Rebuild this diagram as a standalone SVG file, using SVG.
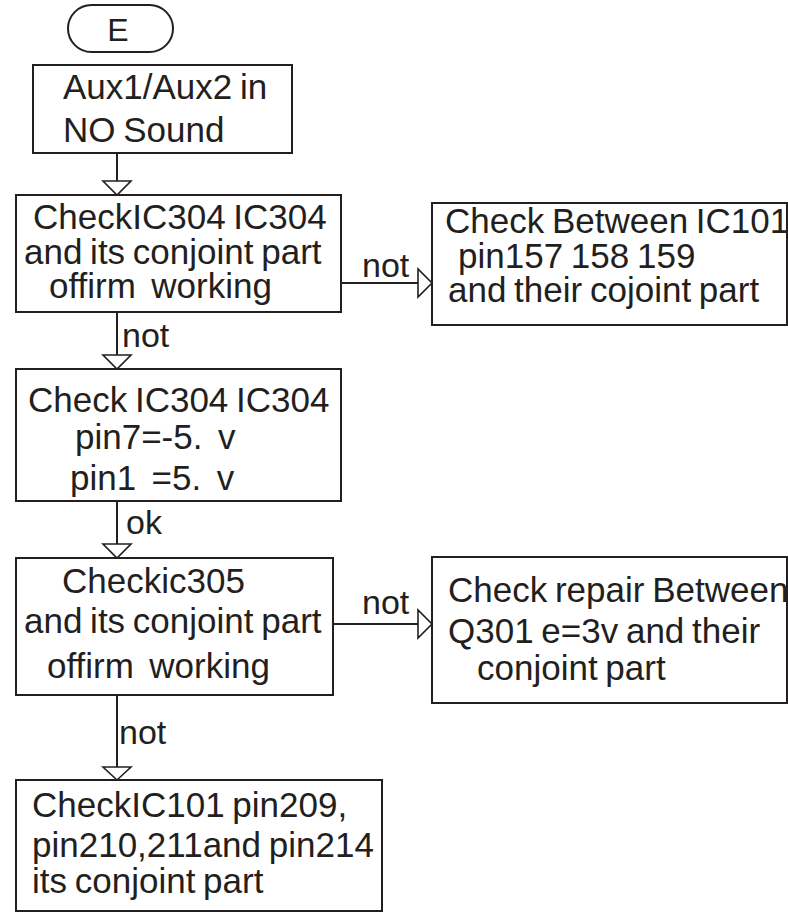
<svg xmlns="http://www.w3.org/2000/svg" width="788" height="913" viewBox="0 0 788 913">
<style>
.b{fill:#fff;stroke:#231f20;stroke-width:2}
.t{font-family:"Liberation Sans",Arial,sans-serif;font-size:35px;fill:#231f20;white-space:pre;word-spacing:-2px}
.l{font-family:"Liberation Sans",Arial,sans-serif;font-size:34px;fill:#231f20}
.c{fill:none;stroke:#231f20;stroke-width:2}
.a{fill:#fff;stroke:#231f20;stroke-width:1.6}
</style>
<g id="connectors">
<line class="c" x1="117" y1="153" x2="117" y2="181"/>
<polygon class="a" points="103,181 131,181 117,195"/>
<line class="c" x1="117" y1="312" x2="117" y2="355"/>
<polygon class="a" points="103,355 131,355 117,369"/>
<text class="l" x="122" y="347">not</text>
<line class="c" x1="117" y1="501" x2="117" y2="544"/>
<polygon class="a" points="103,544 131,544 117,558"/>
<text class="l" x="126" y="534">ok</text>
<line class="c" x1="117" y1="695" x2="117" y2="767"/>
<polygon class="a" points="103,767 131,767 117,780"/>
<text class="l" x="119" y="744">not</text>
<line class="c" x1="341" y1="283" x2="418" y2="283"/>
<polygon class="a" points="418,269 418,297 432,283"/>
<text class="l" x="362" y="277">not</text>
<line class="c" x1="333" y1="624" x2="418" y2="624"/>
<polygon class="a" points="418,610 418,638 432,624"/>
<text class="l" x="362" y="614">not</text>
</g>
<g id="start">
<rect class="b" x="68" y="5" width="105" height="47" rx="23.5"/>
<text class="t" x="118" y="41" text-anchor="middle" style="font-size:32px">E</text>
</g>
<g id="n1">
<rect class="b" x="33" y="65" width="259" height="88"/>
<text class="t" x="63" y="99">Aux1/Aux2 in</text>
<text class="t" x="63" y="142">NO Sound</text>
</g>
<g id="n2">
<rect class="b" x="16" y="195" width="325" height="117"/>
<text class="t" x="33" y="229">CheckIC304 IC304</text>
<text class="t" x="24" y="264">and its conjoint part</text>
<text class="t" x="49" y="298">offirm  working</text>
</g>
<g id="n3">
<rect class="b" x="432" y="203" width="355" height="122"/>
<text class="t" x="445" y="233">Check Between IC101</text>
<text class="t" x="458" y="268">pin157 158 159</text>
<text class="t" x="448" y="302">and their cojoint part</text>
</g>
<g id="n4">
<rect class="b" x="16" y="369" width="325" height="132"/>
<text class="t" x="28" y="412">Check IC304 IC304</text>
<text class="t" x="75" y="449">pin7=-5.  v</text>
<text class="t" x="70" y="490">pin1  =5.  v</text>
</g>
<g id="n5">
<rect class="b" x="16" y="558" width="317" height="137"/>
<text class="t" x="62" y="593">Checkic305</text>
<text class="t" x="24" y="633">and its conjoint part</text>
<text class="t" x="47" y="678">offirm  working</text>
</g>
<g id="n6">
<rect class="b" x="432" y="557" width="355" height="146"/>
<text class="t" x="448" y="602">Check repair Between</text>
<text class="t" x="448" y="643">Q301 e=3v and their</text>
<text class="t" x="477" y="680">conjoint part</text>
</g>
<g id="n7">
<rect class="b" x="16" y="780" width="366" height="131"/>
<text class="t" x="32" y="817">CheckIC101 pin209,</text>
<text class="t" x="32" y="857">pin210,211and pin214</text>
<text class="t" x="32" y="893">its conjoint part</text>
</g>
</svg>
